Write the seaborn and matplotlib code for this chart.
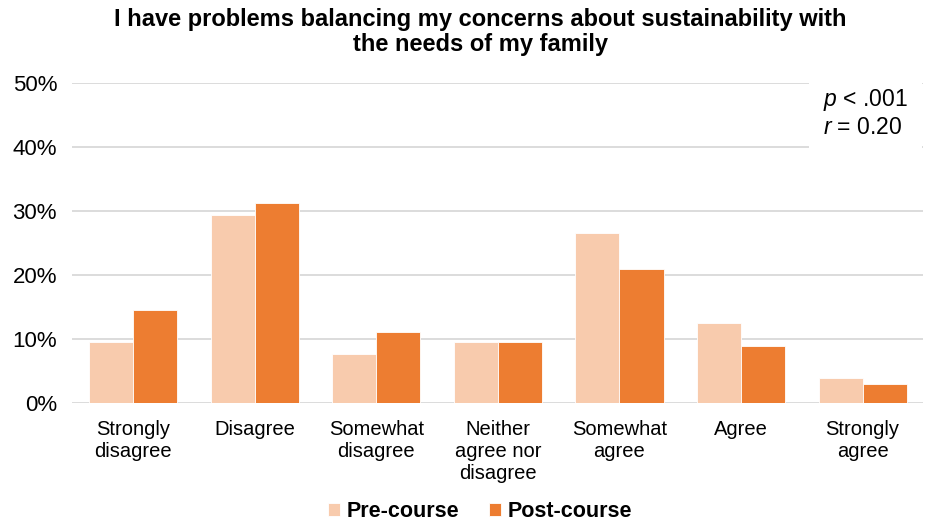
import pandas as pd
import numpy as np
import matplotlib.pyplot as plt
import seaborn as sns

# Data (percent of respondents)
categories = ['Strongly\ndisagree', 'Disagree', 'Somewhat\ndisagree',
              'Neither\nagree nor\ndisagree', 'Somewhat\nagree', 'Agree',
              'Strongly\nagree']
pre_course = [9.6, 29.4, 7.7, 9.6, 26.6, 12.5, 3.9]
post_course = [14.6, 31.2, 11.1, 9.5, 21.0, 9.0, 3.0]
groups = ['Pre-course', 'Post-course']

df = pd.DataFrame({
    'category': categories * 2,
    'value': pre_course + post_course,
    'group': [groups[0]] * len(categories) + [groups[1]] * len(categories),
})

sns.set_style('white')
plt.rcParams['font.family'] = ['Liberation Sans', 'DejaVu Sans']
plt.rcParams['mathtext.fontset'] = 'custom'
plt.rcParams['mathtext.it'] = 'Liberation Sans:italic'
plt.rcParams['mathtext.rm'] = 'Liberation Sans'
plt.rcParams['text.color'] = 'black'
plt.rcParams['xtick.color'] = 'black'
plt.rcParams['ytick.color'] = 'black'

fig = plt.figure(figsize=(9.28, 5.25), dpi=100)
ax = fig.add_axes([0.078, 0.232, 0.917, 0.6105])

palette = {'Pre-course': '#F8CBAD', 'Post-course': '#ED7D31'}
sns.barplot(data=df, x='category', y='value', hue='group', palette=palette,
            width=0.725, edgecolor='white', linewidth=0.6, saturation=1,
            ax=ax, zorder=3)

ax.set_ylim(0, 50)
ax.set_xlim(-0.5, len(categories) - 0.5)
ax.set_yticks(np.arange(0, 51, 10))
ax.set_yticklabels([f'{t}%' for t in range(0, 51, 10)], fontsize=16)
ax.tick_params(axis='x', labelsize=14.5, length=0, pad=12, colors='black')
ax.tick_params(axis='y', length=0, pad=11, colors='black')
ax.yaxis.grid(True, color='#D9D9D9', linewidth=1.3, zorder=0)
ax.set_axisbelow(True)
for s in ax.spines.values():
    s.set_visible(False)
ax.set_xlabel('')
ax.set_ylabel('')

fig.suptitle('I have problems balancing my concerns about sustainability with\nthe needs of my family',
             fontsize=17, fontweight='bold', y=0.985, x=0.518, linespacing=1.1,
             color='black')

ax.text(0.882, 0.985, '$\\it{p}$ < .001\n$\\it{r}$ = 0.20', transform=ax.transAxes,
        ha='left', va='top', fontsize=16.5, linespacing=1.15, color='black',
        bbox=dict(facecolor='white', edgecolor='none', pad=10), zorder=5)

leg = ax.legend(loc='upper center', bbox_to_anchor=(0.479, -0.245), ncol=2,
                frameon=False, handlelength=0.55, handleheight=0.55,
                handletextpad=0.3, columnspacing=1.4,
                prop={'weight': 'bold', 'size': 15.5})
for t in leg.get_texts():
    t.set_color('black')

fig.savefig('out.png', dpi=100)
